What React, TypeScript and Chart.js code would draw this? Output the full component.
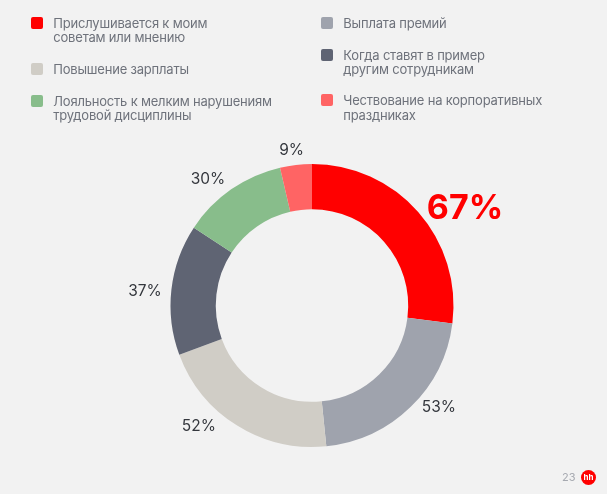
import React, { useEffect, useRef } from "react";
import { Chart, registerables } from "chart.js";

Chart.register(...registerables);

const categories: string[][] = [
  ["Прислушивается к моим", "советам или мнению"],
  ["Выплата премий"],
  ["Повышение зарплаты"],
  ["Когда ставят в пример", "другим сотрудникам"],
  ["Лояльность к мелким нарушениям", "трудовой дисциплины"],
  ["Чествование на корпоративных", "праздниках"],
];
const values: number[] = [67, 53, 52, 37, 30, 9];
const colors: string[] = ["#ff0000", "#9fa3ad", "#d0cdc6", "#5f6473", "#88bd8b", "#ff6464"];

// label placement tweaks (degrees, px beyond outer radius)
const labelAngleNudge = [8.6, -7.3, 11.5, -1.4, -4.4, -0.9];
const labelRadiusPad = [40.5, 20.5, 23, 26.2, 23, 16];

const FONT = "Inter, 'Noto Sans', sans-serif";

const labelPlugin = {
  id: "pctLabels",
  afterDatasetsDraw(chart: any) {
    const ctx = chart.ctx;
    const meta = chart.getDatasetMeta(0);
    ctx.save();
    meta.data.forEach((arc: any, i: number) => {
      const p = arc.getProps(["x", "y", "startAngle", "endAngle", "outerRadius"], true);
      const a = (p.startAngle + p.endAngle) / 2 + (labelAngleNudge[i] * Math.PI) / 180;
      const r = p.outerRadius + labelRadiusPad[i];
      const cx = p.x + r * Math.cos(a);
      const cy = p.y + r * Math.sin(a);
      const big = i === 0;
      const size = big ? 34 : 15.5;
      ctx.font = `${big ? "bold " : ""}${size}px ${FONT}`;
      ctx.fillStyle = big ? "#ff0000" : "#34373d";
      ctx.textAlign = "center";
      ctx.textBaseline = "alphabetic";
      ctx.fillText(`${values[i]}%`, cx, cy + size * 0.727 / 2);
    });
    ctx.restore();
  },
};

export default function App() {
  const ref = useRef<HTMLCanvasElement>(null);
  useEffect(() => {
    document.body.style.margin = "0";
    const chart = new Chart(ref.current!, {
      type: "doughnut",
      data: {
        labels: categories,
        datasets: [
          {
            data: values,
            backgroundColor: colors,
            borderWidth: 0,
            hoverOffset: 0,
          },
        ],
      },
      options: {
        animation: false,
        responsive: false,
        cutout: "68%",
        layout: { padding: { left: 170.5, right: 153.5, top: 164, bottom: 47 } },
        plugins: { legend: { display: false }, tooltip: { enabled: false } },
      },
      plugins: [labelPlugin],
    });
    return () => chart.destroy();
  }, []);

  const legendTops = [15.5, 15.5, 61.5, 47.5, 93.7, 93.2];
  const colLefts = [30.7, 320.7];

  return (
    <div
      style={{
        position: "absolute",
        left: 0,
        top: 0,
        width: 607,
        height: 494,
        background: "#f2f2f2",
        overflow: "hidden",
        fontFamily: FONT,
      }}
    >
      <canvas ref={ref} width={607} height={494} style={{ position: "absolute", left: 0, top: 0 }} />
      {categories.map((lines, i) => (
        <div key={i} style={{ position: "absolute", left: colLefts[i % 2], top: legendTops[i] }}>
          <div
            style={{
              position: "absolute",
              left: 0,
              top: 1.2,
              width: 12,
              height: 12,
              borderRadius: 2,
              background: colors[i],
            }}
          />
          <div
            style={{
              position: "absolute",
              left: 22.6,
              top: 0,
              fontSize: 13,
              lineHeight: "14.5px",
              letterSpacing: "-0.2px",
              color: "#6e727b",
              whiteSpace: "nowrap",
            }}
          >
            {lines.map((l, j) => (
              <div key={j}>{l}</div>
            ))}
          </div>
        </div>
      ))}
      <div
        style={{
          position: "absolute",
          left: 562,
          top: 470,
          fontSize: 11,
          lineHeight: "14px",
          color: "#a6a9b0",
        }}
      >
        23
      </div>
      <div
        style={{
          position: "absolute",
          left: 581,
          top: 470,
          width: 15,
          height: 15,
          borderRadius: "50%",
          background: "#ff0000",
          color: "#fff",
          fontSize: 8,
          fontWeight: 700,
          lineHeight: "15px",
          textAlign: "center",
        }}
      >
        hh
      </div>
    </div>
  );
}
